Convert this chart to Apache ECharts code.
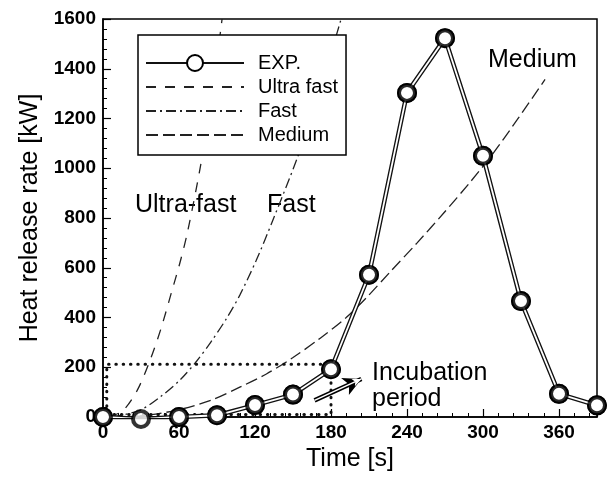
<!DOCTYPE html>
<html>
<head>
<meta charset="utf-8">
<script src="https://cdn.jsdelivr.net/npm/echarts@6/dist/echarts.min.js"></script>
<style>html,body{margin:0;padding:0;background:#fff;}#c{width:613px;height:477px;}</style>
</head>
<body>
<div id="c"></div>
<script>
// ---- data ----
const expTime = [0, 30, 60, 90, 120, 150, 180, 210, 240, 270, 300, 330, 360, 390];
const expHrr  = [0, -8, 0, 7, 48, 90, 192, 572, 1303, 1523, 1050, 466, 93, 47];

const ultraT = [5, 16, 27, 37, 46, 54, 61, 67, 77, 86, 94];
const ultraQ = [0, 27, 107, 226, 359, 500, 625, 750, 1010, 1290, 1600];

const fastT = [7, 29, 45, 61, 74, 85, 98, 108, 121, 134, 154, 171, 188];
const fastQ = [0, 27, 80, 150, 225, 300, 400, 490, 630, 790, 1050, 1310, 1600];

const medT = [10, 29, 58, 85, 108, 129, 150, 171, 192, 208, 227, 248, 269, 290, 308, 327, 349];
const medQ = [0, 4, 27, 67, 120, 173, 239, 315, 400, 480, 585, 700, 820, 945, 1060, 1195, 1357];

// incubation-period box (dotted) and arrow
const boxT = [3, 180, 180, 3, 3];
const boxQ = [10, 10, 212, 212, 10];
const arrowFrom = [167, 67];
const arrowTo = [204, 153];

const xTicks = [0, 60, 120, 180, 240, 300, 360];
const seriesNames = ['EXP.', 'Ultra fast', 'Fast', 'Medium'];

// ---- build ----
const pairs = (a, b) => a.map((v, i) => [v, b[i]]);
const FF = '"Liberation Sans", Arial, sans-serif';

const chart = echarts.init(document.getElementById('c'), null, {renderer: 'canvas'});
const axisCommon = {
  axisLine: {show: true, lineStyle: {color: '#000', width: 1.5}},
  axisTick: {show: true, inside: true, length: 8, lineStyle: {color: '#000', width: 1.2}},
  minorTick: {show: true, splitNumber: 5, length: 4, lineStyle: {color: '#000', width: 1}},
  splitLine: {show: false},
  nameLocation: 'middle',
  nameTextStyle: {fontSize: 25, color: '#000', fontFamily: FF}
};

const curveLegend = name => ({name: name, itemStyle: {opacity: 0}});

const option = {
  animation: false,
  backgroundColor: '#fff',
  color: ['#222'],
  grid: {left: 103, right: 16, top: 19, bottom: 57, show: true, borderColor: '#000', borderWidth: 1.5},
  xAxis: Object.assign({}, axisCommon, {
    type: 'value', min: 0, max: 390, interval: 60,
    name: 'Time [s]', nameGap: 30,
    axisLabel: {fontSize: 19, color: '#000', fontFamily: FF, fontWeight: 'bold', margin: 6,
      formatter: v => (xTicks.indexOf(v) >= 0 ? String(v) : '')}
  }),
  yAxis: Object.assign({}, axisCommon, {
    type: 'value', min: 0, max: 1600, interval: 200,
    name: 'Heat release rate [kW]', nameGap: 60,
    axisLabel: {fontSize: 19, color: '#000', fontFamily: FF, fontWeight: 'bold', margin: 7,
      formatter: v => String(v)}
  }),
  legend: {
    left: 138, top: 35, orient: 'vertical',
    padding: [16, 8, 8, 7], itemGap: 0, itemWidth: 98, itemHeight: 20,
    borderColor: '#000', borderWidth: 1.5, backgroundColor: '#fff',
    textStyle: {fontSize: 20, color: '#000', fontFamily: FF, lineHeight: 24, padding: [0, 0, 0, 9]},
    data: [seriesNames[0], curveLegend(seriesNames[1]), curveLegend(seriesNames[2]), curveLegend(seriesNames[3])]
  },
  series: [
    {name: 'Ultra fast', type: 'line', data: pairs(ultraT, ultraQ), smooth: 0.3, symbol: 'none', z: 2,
      itemStyle: {color: '#222'}, lineStyle: {color: '#222', width: 1.3, type: [10, 9]}},
    {name: 'Fast', type: 'line', data: pairs(fastT, fastQ), smooth: 0.3, symbol: 'none', z: 2,
      itemStyle: {color: '#222'}, lineStyle: {color: '#222', width: 1.3, type: [10, 4, 2, 4]}},
    {name: 'Medium', type: 'line', data: pairs(medT, medQ), smooth: 0.3, symbol: 'none', z: 2,
      itemStyle: {color: '#222'}, lineStyle: {color: '#222', width: 1.3, type: [12, 5]}},
    {name: 'box', type: 'line', data: pairs(boxT, boxQ), symbol: 'none', z: 2, silent: true,
      lineStyle: {color: '#111', width: 3, type: [0.5, 6.8], cap: 'round'},
      markLine: {silent: true, symbol: ['none', 'arrow'], label: {show: false},
        data: [
          [{coord: arrowFrom, symbolSize: [14, 18], lineStyle: {color: '#000', width: 4.5, type: 'solid'}},
           {coord: arrowTo, symbolSize: [14, 18]}],
          [{coord: arrowFrom, symbolSize: [6, 9], lineStyle: {color: '#fff', width: 1.5, type: 'solid'}},
           {coord: arrowTo, symbolSize: [6, 9]}]
        ]}},
    {name: 'EXP.', type: 'line', data: pairs(expTime, expHrr), z: 3,
      symbol: 'circle', symbolSize: 16, showSymbol: true,
      itemStyle: {color: '#fff', borderColor: '#000', borderWidth: 4},
      lineStyle: {color: '#111', width: 4.5}},
    {name: 'EXP-inner', type: 'line', data: pairs(expTime, expHrr), z: 4, symbol: 'none', silent: true,
      lineStyle: {color: '#fff', width: 1.8}},
    {name: 'EXP-marks', type: 'scatter', data: pairs(expTime, expHrr), z: 5, symbol: 'circle', symbolSize: 16,
      itemStyle: {color: '#fff', borderColor: '#000', borderWidth: 4}, clip: false}
  ],
  graphic: [
    {type: 'text', x: 135, y: 205, style: {text: 'Ultra-fast', font: '25px ' + FF, fill: '#000', verticalAlign: 'middle'}},
    {type: 'text', x: 267, y: 205, style: {text: 'Fast', font: '25px ' + FF, fill: '#000', verticalAlign: 'middle'}},
    {type: 'text', x: 488, y: 60, style: {text: 'Medium', font: '25px ' + FF, fill: '#000', verticalAlign: 'middle'}},
    {type: 'text', x: 372, y: 373, style: {text: 'Incubation', font: '25px ' + FF, fill: '#000', verticalAlign: 'middle'}},
    {type: 'text', x: 372, y: 399, style: {text: 'period', font: '25px ' + FF, fill: '#000', verticalAlign: 'middle'}}
  ]
};
chart.setOption(option);
</script>
</body>
</html>
